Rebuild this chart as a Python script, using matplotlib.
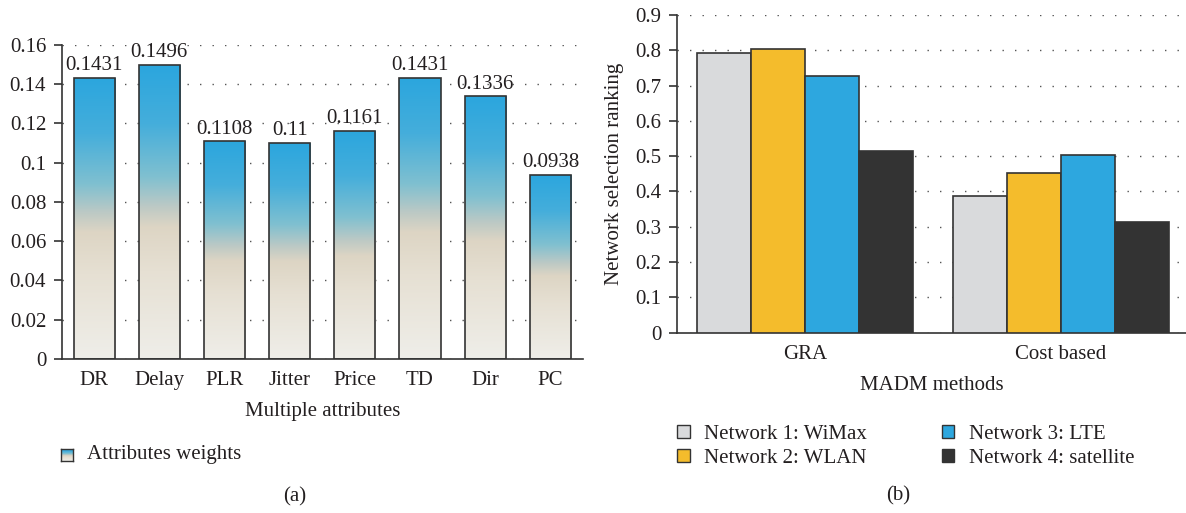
import numpy as np
import matplotlib
matplotlib.use("Agg")
import matplotlib.pyplot as plt
from matplotlib.colors import LinearSegmentedColormap
from matplotlib.patches import Patch

# panel (a): attribute weights
attributes = ["DR", "Delay", "PLR", "Jitter", "Price", "TD", "Dir", "PC"]
weights = [0.1431, 0.1496, 0.1108, 0.11, 0.1161, 0.1431, 0.1336, 0.0938]
a_yticks = [0, 0.02, 0.04, 0.06, 0.08, 0.1, 0.12, 0.14, 0.16]
a_yticklabels = ["0", "0.02", "0.04", "0.06", "0.08", "0.1", "0.12", "0.14", "0.16"]

# panel (b): network ranking per MADM method
methods = ["GRA", "Cost based"]
networks = ["Network 1: WiMax", "Network 2: WLAN", "Network 3: LTE", "Network 4: satellite"]
ranking = [
    [0.791, 0.387],   # WiMax
    [0.803, 0.4525],  # WLAN
    [0.726, 0.502],   # LTE
    [0.516, 0.314],   # satellite
]
b_yticks = [0, 0.1, 0.2, 0.3, 0.4, 0.5, 0.6, 0.7, 0.8, 0.9]
b_yticklabels = ["0", "0.1", "0.2", "0.3", "0.4", "0.5", "0.6", "0.7", "0.8", "0.9"]

net_colors = ["#D9DADC", "#F4BC2C", "#2DA7DF", "#333333"]
edge = "#333333"
txt = "#231F20"

grad = LinearSegmentedColormap.from_list("weights", [
    (0.00, "#EFEEE9"),
    (0.30, "#E6E0D3"),
    (0.45, "#DDD5C4"),
    (0.52, "#BCC9C5"),
    (0.62, "#80C0D0"),
    (0.80, "#45AEDB"),
    (1.00, "#2BA6DE"),
])
ramp = np.linspace(0, 1, 256).reshape(-1, 1)

plt.rcParams["font.family"] = ["Liberation Serif", "DejaVu Serif"]
plt.rcParams["font.size"] = 15
plt.rcParams["text.color"] = txt
plt.rcParams["axes.labelcolor"] = txt
plt.rcParams["xtick.color"] = txt
plt.rcParams["ytick.color"] = txt

fig = plt.figure(figsize=(11.86, 5.13), dpi=100)
W, H = 1186, 513


def px_axes(x0, y_top, x1, y_bot):
    return fig.add_axes([x0 / W, 1 - y_bot / H, (x1 - x0) / W, (y_bot - y_top) / H])


def style(ax):
    for s in ("top", "right"):
        ax.spines[s].set_visible(False)
    for s in ("left", "bottom"):
        ax.spines[s].set_color(edge)
        ax.spines[s].set_linewidth(1.2)
    ax.tick_params(axis="y", direction="out", length=6, width=1.2, color=edge, pad=5)
    ax.tick_params(axis="x", length=0, pad=8.5)
    ax.yaxis.grid(True, color="#555555", linestyle=(0, (1, 8)), linewidth=1.0)
    ax.set_axisbelow(True)


# ---- (a)
axa = px_axes(61.5, 44.6, 583, 359)
style(axa)
xa = np.arange(len(attributes))
bw = 0.63
bars = axa.bar(xa, weights, bw, facecolor="none", edgecolor=edge, linewidth=1.2, zorder=3)
for b, x, h in zip(bars, xa, weights):
    im = axa.imshow(ramp, cmap=grad, origin="lower", aspect="auto",
                    extent=(x - bw / 2, x + bw / 2, 0, h), zorder=2)
    im.set_clip_path(b)
    axa.annotate(f"{h:g}", (x, h), xytext=(0, 2), textcoords="offset points",
                 ha="center", va="bottom")
axa.set_xlim(-0.5, len(attributes) - 0.5)
axa.set_ylim(0, 0.16)
axa.set_yticks(a_yticks)
axa.set_yticklabels(a_yticklabels)
axa.set_xticks(xa)
axa.set_xticklabels(attributes)
axa.set_xlabel("Multiple attributes", labelpad=9)

# legend swatch for (a)
sw = px_axes(61, 449, 73, 461)
sw.imshow(ramp, cmap=grad, origin="lower", aspect="auto")
sw.set_xticks([])
sw.set_yticks([])
for s in sw.spines.values():
    s.set_color(edge)
    s.set_linewidth(1.0)
fig.text(87 / W, 1 - 455 / H, "Attributes weights", va="center", ha="left")
fig.text(295 / W, 1 - 497 / H, "(a)", va="center", ha="center")

# ---- (b)
axb = px_axes(677, 15, 1186, 332.7)
style(axb)
xb = np.arange(len(methods))
nw = 0.211
for i, (name, vals, c) in enumerate(zip(networks, ranking, net_colors)):
    axb.bar(xb + (i - 1.5) * nw, vals, nw, color=c, edgecolor=edge, linewidth=1.2,
            label=name, zorder=3)
axb.set_xlim(-0.5, 1.49)
axb.set_ylim(0, 0.9)
axb.set_yticks(b_yticks)
axb.set_yticklabels(b_yticklabels)
axb.set_xticks(xb)
axb.set_xticklabels(methods)
axb.set_xlabel("MADM methods", labelpad=9)
axb.set_ylabel("Network selection ranking", labelpad=8)

handles = [Patch(facecolor=c, edgecolor=edge, linewidth=1.0) for c in net_colors]
fig.legend(handles, networks, loc="upper left", bbox_to_anchor=(677 / W, 1 - 425 / H),
           ncol=2, frameon=False, borderpad=0, borderaxespad=0,
           handlelength=0.6, handleheight=0.6, handletextpad=0.7,
           labelspacing=0.25, columnspacing=3.6)
fig.text(898 / W, 1 - 496 / H, "(b)", va="center", ha="center")

fig.savefig("out.png", dpi=100)
